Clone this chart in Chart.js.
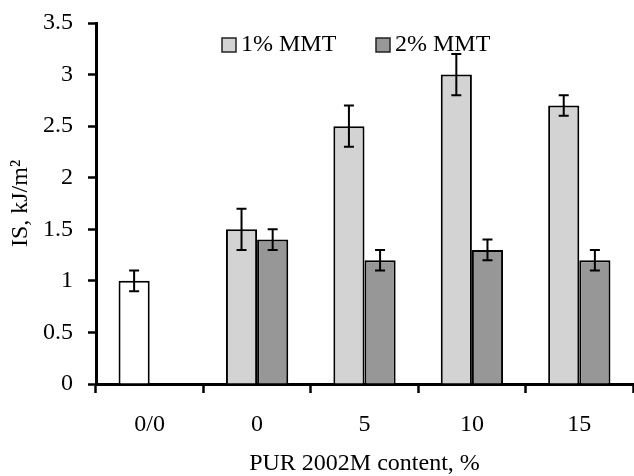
<!DOCTYPE html>
<html>
<head>
<meta charset="utf-8">
<script src="https://cdn.jsdelivr.net/npm/chart.js@4/dist/chart.umd.min.js"></script>
<style>
  html, body { margin: 0; padding: 0; background: #fff; }
  #wrap { width: 634px; height: 476px; }
</style>
</head>
<body>
<div id="wrap"><canvas id="isChart" width="634" height="476"></canvas></div>
<script>
// Impact strength vs PUR 2002M content
const categories = ['0/0', '0', '5', '10', '15'];
const mmt1 = [1.0, 1.5, 2.5, 3.0, 2.7];
const mmt2 = [null, 1.4, 1.2, 1.3, 1.2];
const err1 = [0.1, 0.2, 0.2, 0.2, 0.1];
const err2 = [null, 0.1, 0.1, 0.1, 0.1];
const yTicks = [0, 0.5, 1, 1.5, 2, 2.5, 3, 3.5];

const FONT = "'Liberation Serif', 'Times New Roman', serif";
const FS = 24;
const LIGHT = '#d3d3d3';
const DARK = '#979797';

// whisker drawing for each bar
const errorBars = {
  id: 'errorBars',
  afterDatasetsDraw(chart) {
    const ctx = chart.ctx;
    const y = chart.scales.y;
    const errs = [err1, err2];
    ctx.save();
    ctx.strokeStyle = '#000';
    ctx.lineWidth = 2;
    chart.data.datasets.forEach((ds, di) => {
      chart.getDatasetMeta(di).data.forEach((bar, i) => {
        const v = ds.data[i], e = errs[di][i];
        if (v == null || e == null) return;
        const top = y.getPixelForValue(v + e);
        const bot = y.getPixelForValue(v - e);
        ctx.beginPath();
        ctx.moveTo(bar.x, top); ctx.lineTo(bar.x, bot);
        ctx.moveTo(bar.x - 5, top); ctx.lineTo(bar.x + 5, top);
        ctx.moveTo(bar.x - 5, bot); ctx.lineTo(bar.x + 5, bot);
        ctx.stroke();
      });
    });
    ctx.restore();
  }
};

// legend sits inside the plot area
const innerLegend = {
  id: 'innerLegend',
  afterDraw(chart) {
    const ctx = chart.ctx;
    const items = [
      { x: 222, label: chart.data.datasets[0].label, color: LIGHT },
      { x: 376, label: chart.data.datasets[1].label, color: DARK }
    ];
    ctx.save();
    ctx.font = FS + 'px ' + FONT;
    ctx.textBaseline = 'middle';
    items.forEach(it => {
      ctx.fillStyle = it.color;
      ctx.fillRect(it.x, 38, 14, 14);
      ctx.strokeStyle = '#222';
      ctx.lineWidth = 1.5;
      ctx.strokeRect(it.x, 38, 14, 14);
      ctx.fillStyle = '#000';
      ctx.fillText(it.label, it.x + 19, 45);
    });
    ctx.restore();
  }
};

new Chart(document.getElementById('isChart'), {
  type: 'bar',
  data: {
    labels: categories,
    datasets: [
      {
        label: '1% MMT',
        data: mmt1,
        backgroundColor: mmt1.map((v, i) => i === 0 ? '#ffffff' : LIGHT),
        borderColor: '#000',
        borderWidth: 2
      },
      {
        label: '2% MMT',
        data: mmt2,
        backgroundColor: DARK,
        borderColor: '#000',
        borderWidth: 2
      }
    ]
  },
  options: {
    responsive: false,
    animation: false,
    layout: { padding: { top: 23, right: 1, left: 0, bottom: 0 } },
    datasets: { bar: { categoryPercentage: 0.58, barPercentage: 1.0 } },
    plugins: {
      legend: { display: false },
      tooltip: { enabled: false }
    },
    scales: {
      x: {
        grid: { drawOnChartArea: false, tickLength: 9, tickWidth: 2.5, tickColor: '#000', offset: true },
        border: { color: '#000', width: 3 },
        ticks: { color: '#000', font: { family: FONT, size: FS }, padding: 17 },
        title: {
          display: true,
          text: 'PUR 2002M content, %',
          color: '#000',
          font: { family: FONT, size: FS, lineHeight: 1 },
          padding: { top: 8, bottom: 0 }
        },
        afterFit(scale) {
          scale.height = 92;
          scale.paddingLeft = 0;
          scale.paddingRight = 0;
        }
      },
      y: {
        min: 0,
        max: 3.5,
        afterBuildTicks(scale) { scale.ticks = yTicks.map(v => ({ value: v })); },
        grid: { drawOnChartArea: false, tickLength: 8, tickWidth: 2.5, tickColor: '#000' },
        border: { color: '#000', width: 3 },
        ticks: {
          color: '#000',
          font: { family: FONT, size: FS },
          padding: 15,
          callback: v => String(v)
        },
        title: {
          display: true,
          text: 'IS, kJ/m²',
          color: '#000',
          font: { family: FONT, size: FS },
          padding: { top: 6, bottom: 0 }
        },
        afterFit(scale) {
          scale.width = 96;
          // let the top label overhang the plot edge
          scale.paddingTop = 0;
          scale.paddingBottom = 0;
        }
      }
    }
  },
  plugins: [errorBars, innerLegend]
});
</script>
</body>
</html>
